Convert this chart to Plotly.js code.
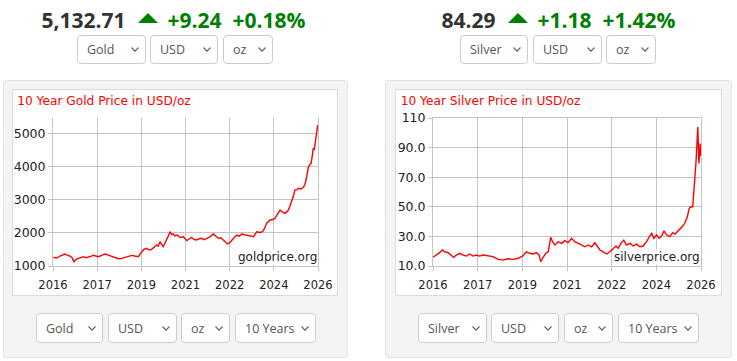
<!DOCTYPE html>
<html><head><meta charset="utf-8">
<script src="https://cdn.plot.ly/plotly-3.0.1.min.js"></script>
<style>
html,body{margin:0;padding:0;background:#fff;width:737px;height:361px;overflow:hidden;font-family:"Open Sans",sans-serif;}
.head{position:absolute;top:4px;height:32px;display:flex;align-items:center;justify-content:center;font-weight:700;font-size:21px;white-space:nowrap;}
.price{color:#333;}
.chg{color:#008000;}
.tri{width:0;height:0;border-left:10px solid transparent;border-right:10px solid transparent;border-bottom:10px solid #008000;margin:0 10px 4px 12px;}
.pct{margin-left:11px;}
select{position:absolute;box-sizing:border-box;border:1px solid #ccc;border-radius:4px;background-color:#fff;
 font-family:"Open Sans",sans-serif;font-size:12.5px;color:#555;padding:0 0 0 9px;margin:0;
 -webkit-appearance:none;appearance:none;outline:none;
 background-image:url("data:image/svg+xml;utf8,<svg xmlns='http://www.w3.org/2000/svg' width='8' height='5'><path d='M0.5 0.5 L4 4.2 L7.5 0.5' fill='none' stroke='%23666' stroke-width='1.2'/></svg>");
 background-repeat:no-repeat;background-position:right 6px center;}
.top{top:35px;height:29px;}
.bot{top:313px;height:30px;}
.panel{position:absolute;top:80px;height:278px;box-sizing:border-box;border:1px solid #e4e4e4;background:#f4f4f4;border-radius:3px;}
.inner{position:absolute;top:89px;height:207px;box-sizing:border-box;border:1px solid #dcdcdc;background:#fff;}
.plot{position:absolute;top:90px;height:205px;}
</style></head>
<body>
<div class="head" style="left:1px;width:345px;"><span class="price">5,132.71</span><span class="tri"></span><span class="chg">+9.24</span><span class="chg pct">+0.18%</span></div>
<div class="head" style="left:385px;width:347px;"><span class="price">84.29</span><span class="tri"></span><span class="chg">+1.18</span><span class="chg pct">+1.42%</span></div>

<select class="top" style="left:77px;width:69px;"><option>Gold</option><option>Silver</option></select>
<select class="top" style="left:150px;width:68px;"><option>USD</option><option>EUR</option></select>
<select class="top" style="left:223px;width:50px;"><option>oz</option><option>g</option></select>

<select class="top" style="left:460px;width:68px;"><option>Silver</option><option>Gold</option></select>
<select class="top" style="left:533px;width:69px;"><option>USD</option><option>EUR</option></select>
<select class="top" style="left:606px;width:50px;"><option>oz</option><option>g</option></select>

<div class="panel" style="left:3px;width:345px;"></div>
<div class="panel" style="left:385px;width:347px;"></div>
<div class="inner" style="left:12px;width:326px;"></div>
<div class="inner" style="left:395px;width:327px;"></div>
<div id="gold" class="plot" style="left:13px;width:324px;"></div>
<div id="silver" class="plot" style="left:396px;width:325px;"></div>

<select class="bot" style="left:36px;width:67px;"><option>Gold</option><option>Silver</option></select>
<select class="bot" style="left:108px;width:69px;"><option>USD</option><option>EUR</option></select>
<select class="bot" style="left:181px;width:49px;"><option>oz</option><option>g</option></select>
<select class="bot" style="left:235px;width:81px;"><option>10 Years</option><option>5 Years</option></select>

<select class="bot" style="left:418px;width:69px;"><option>Silver</option><option>Gold</option></select>
<select class="bot" style="left:491px;width:68px;"><option>USD</option><option>EUR</option></select>
<select class="bot" style="left:564px;width:49px;"><option>oz</option><option>g</option></select>
<select class="bot" style="left:618px;width:81px;"><option>10 Years</option><option>5 Years</option></select>

<script>
// ---- data ----
var goldYears = [2016.01,2016.14,2016.26,2016.45,2016.54,2016.64,2016.72,2016.79,2016.87,2016.96,
 2017.04,2017.14,2017.25,2017.33,2017.42,2017.52,2017.62,2017.71,2017.84,2017.96,
 2018.09,2018.21,2018.34,2018.46,2018.59,2018.72,2018.84,2018.97,2019.09,2019.22,
 2019.35,2019.43,2019.53,2019.63,2019.72,2019.81,2019.91,2019.97,2020.04,2020.10,
 2020.16,2020.23,2020.29,2020.35,2020.42,2020.48,2020.54,2020.60,2020.69,2020.79,
 2020.92,2021.05,2021.15,2021.23,2021.32,2021.42,2021.52,2021.61,2021.70,2021.80,
 2021.92,2022.05,2022.15,2022.24,2022.33,2022.43,2022.52,2022.59,2022.67,2022.74,
 2022.83,2022.93,2023.03,2023.12,2023.21,2023.31,2023.43,2023.56,2023.62,2023.69,
 2023.81,2023.91,2023.99,2024.06,2024.12,2024.19,2024.29,2024.38,2024.46,2024.57,
 2024.67,2024.75,2024.82,2024.88,2024.94,2025.01,2025.07,2025.13,2025.20,2025.26,
 2025.35,2025.45,2025.50,2025.55,2025.60,2025.64,2025.69,2025.74,2025.78,2025.82,
 2025.86,2025.89,2025.92,2025.95,2025.99];
var goldPrices = [1262,1240,1301,1361,1330,1301,1250,1130,1200,1231,
 1260,1281,1250,1262,1290,1321,1300,1281,1320,1361,
 1330,1301,1260,1221,1230,1262,1290,1321,1300,1281,
 1432,1500,1532,1480,1502,1560,1632,1600,1733,1650,
 1582,1700,1783,1900,2033,1950,1960,1904,1930,1864,
 1880,1763,1820,1864,1800,1783,1820,1834,1790,1834,
 1880,1964,1890,1834,1850,1783,1720,1663,1700,1783,
 1850,1934,1900,1964,1950,1934,1910,1884,1950,2033,
 2010,2033,2150,2286,2330,2386,2400,2437,2550,2687,
 2620,2587,2630,2687,2800,2937,3100,3289,3300,3340,
 3320,3370,3450,3590,3800,3991,4050,4093,4300,4545,
 4500,4696,4900,5096,5247];

var silverYears = [2016.00,2016.13,2016.25,2016.35,2016.44,2016.56,2016.69,2016.77,2016.87,2017.00,
 2017.12,2017.25,2017.37,2017.49,2017.62,2017.74,2017.87,2018.05,2018.24,2018.43,
 2018.61,2018.80,2018.99,2019.18,2019.34,2019.49,2019.61,2019.74,2019.86,2019.96,
 2020.02,2020.11,2020.21,2020.30,2020.39,2020.46,2020.55,2020.67,2020.80,2020.92,
 2021.04,2021.17,2021.29,2021.42,2021.54,2021.67,2021.79,2021.92,2022.04,2022.13,
 2022.23,2022.35,2022.48,2022.60,2022.72,2022.83,2022.91,2023.01,2023.12,2023.22,
 2023.35,2023.47,2023.60,2023.72,2023.84,2023.97,2024.07,2024.16,2024.24,2024.34,
 2024.44,2024.53,2024.62,2024.72,2024.84,2024.94,2025.03,2025.12,2025.22,2025.32,
 2025.40,2025.49,2025.56,2025.63,2025.69,2025.74,2025.78,2025.81,2025.85,2025.88,
 2025.90,2025.92,2025.95,2025.97,2026.00];
var silverPrices = [15.9,17.4,19.0,20.8,19.6,19.0,17.4,15.9,17.4,18.6,
 17.4,16.7,18.1,16.7,17.4,16.7,17.4,16.7,16.3,14.5,
 14.0,14.9,14.5,15.2,16.7,19.6,18.6,18.1,19.0,17.4,
 12.9,15.9,18.6,19.6,29.4,26.4,24.2,26.4,25.3,27.1,
 25.8,28.7,26.4,25.3,24.2,23.0,24.2,23.0,25.7,23.0,
 20.8,19.6,18.1,19.6,21.9,23.5,21.9,25.3,27.5,24.2,
 25.3,23.5,24.8,23.0,23.5,26.4,29.8,32.0,28.7,30.9,
 28.7,30.2,33.8,30.9,29.8,32.5,31.6,33.1,34.7,37.0,
 39.2,43.2,48.9,50.0,50.0,61.2,72.5,79.3,92.7,103.9,
 92.7,79.3,86.0,92.7,84.3];

var xTickVals = [2016, 2017.667, 2019.333, 2021, 2022.667, 2024.333, 2026];
var xTickText = ['2016','2017','2019','2021','2022','2024','2026'];
var goldYTickVals = [1000,2000,3000,4000,5000];
var goldYTickText = ['1000','2000','3000','4000','5000'];
var silverYTickVals = [10,30,50,70,90,110];
var silverYTickText = ['10.0','30.0','50.0','70.0','90.0','110'];

// ---- drawing ----
var GRID = '#c4c4c4';
var TXT = '#222';
function axisX(mirror){
  return {range:[2016,2026], tickmode:'array', tickvals:xTickVals, ticktext:xTickText,
    showgrid:true, gridcolor:GRID, gridwidth:1, ticks:'outside', ticklen:4, tickcolor:GRID,
    showline:true, linecolor:GRID, linewidth:1, mirror:mirror, zeroline:false, fixedrange:true,
    ticklabelstandoff:4, tickfont:{family:'DejaVu Sans', size:11.5, color:TXT}};
}
function axisY(range, vals, text){
  return {range:range, tickmode:'array', tickvals:vals, ticktext:text,
    showgrid:true, gridcolor:GRID, gridwidth:1, ticks:'outside', ticklen:4, tickcolor:GRID,
    showline:true, linecolor:GRID, linewidth:1, mirror:true, zeroline:false, fixedrange:true,
    tickfont:{family:'DejaVu Sans', size:12.5, color:TXT}};
}
function makeLayout(w, margin, title, titleX, xMirror, yax, mark){
  return {width:w, height:205, margin:margin, paper_bgcolor:'rgba(0,0,0,0)', plot_bgcolor:'#fff',
    showlegend:false,
    title:{text:title, font:{family:'DejaVu Sans', size:12.2, color:'#ff0000'},
      xref:'container', x:titleX, xanchor:'left', yref:'container', y:0.946, yanchor:'middle', pad:{t:0,b:0,l:0,r:0}},
    xaxis:axisX(xMirror), yaxis:yax,
    annotations:[{text:mark, xref:'paper', yref:'paper', x:1, y:0, xanchor:'right', yanchor:'bottom',
      xshift:0, yshift:1, showarrow:false, bgcolor:'#fff', borderpad:0,
      font:{family:'DejaVu Sans', size:12, color:TXT}}]};
}
var cfg = {displayModeBar:false, staticPlot:true};

Plotly.newPlot('gold', [{x:goldYears, y:goldPrices, type:'scatter', mode:'lines',
  line:{color:'#ff0000', width:1.4}, hoverinfo:'skip'}],
  makeLayout(324, {l:40,r:19,t:28,b:29,pad:0}, '10 Year Gold Price in USD/oz', 0.013, false,
    axisY([1000,5460], goldYTickVals, goldYTickText), 'goldprice.org'), cfg);

Plotly.newPlot('silver', [{x:silverYears, y:silverPrices, type:'scatter', mode:'lines',
  line:{color:'#ff0000', width:1.4}, hoverinfo:'skip'}],
  makeLayout(325, {l:37,r:20,t:28,b:29,pad:0}, '10 Year Silver Price in USD/oz', 0.0145, true,
    axisY([10,110], silverYTickVals, silverYTickText), 'silverprice.org'), cfg);
</script>
</body></html>
